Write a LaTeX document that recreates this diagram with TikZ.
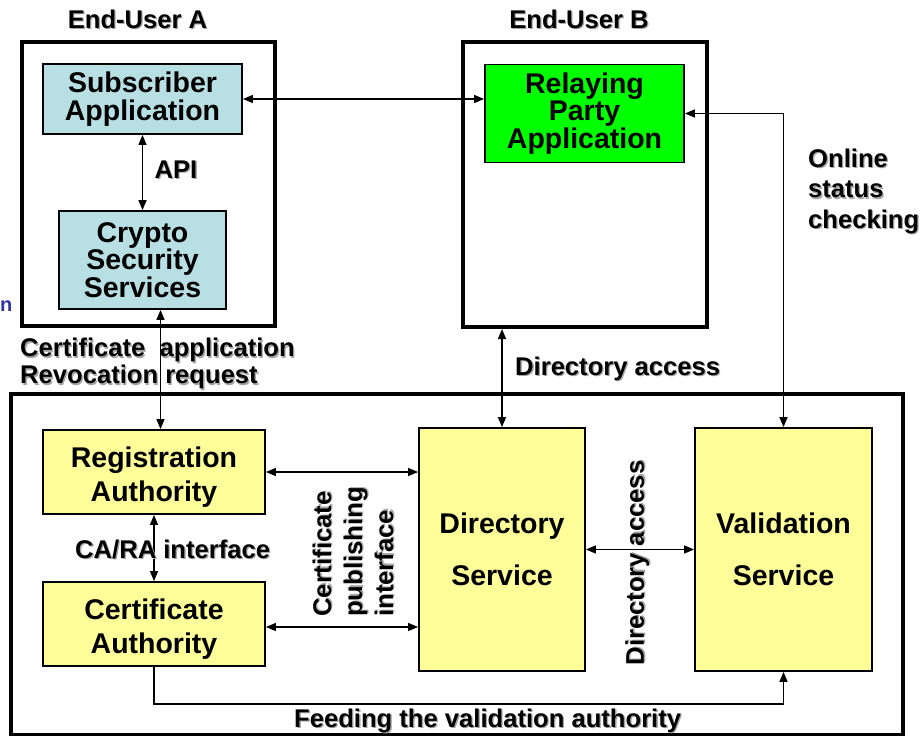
\documentclass[tikz,border=0pt]{standalone}
\usepackage{fontspec}
\setmainfont{Liberation Sans}
\usetikzlibrary{arrows.meta}

\definecolor{appblue}{RGB}{184,224,228}
\definecolor{paleyellow}{RGB}{255,255,153}
\definecolor{brightgreen}{RGB}{0,255,0}
\definecolor{titleblue}{RGB}{51,51,160}

% bold label with a soft grey drop shadow
\newcommand\shd[1]{\leavevmode\rlap{\kern1.3pt\raisebox{-1.3pt}{\color{black!35}#1}}#1}
% invisible strut that lowers a two-line block inside its box
\newcommand\lowerstrut{\rule{0pt}{30pt}}

\begin{document}
\begin{tikzpicture}[x=1pt,y=-1pt,
  frame/.style={draw,line width=4pt,inner sep=0pt},
  box/.style={draw,line width=1.8pt,inner sep=0pt,align=center,
    font=\bfseries\fontsize{28.5}{27.5}\selectfont},
  widebox/.style={box,font=\bfseries\fontsize{28.5}{34}\selectfont},
  tallbox/.style={box,font=\bfseries\fontsize{28.5}{52}\selectfont},
  lbl/.style={inner sep=0pt,font=\bfseries\fontsize{25.6}{27}\selectfont},
  link/.style={line width=1.3pt,{Triangle[length=10pt,width=8pt]}-{Triangle[length=10pt,width=8pt]}},
  feed/.style={line width=1.3pt,-{Triangle[length=10pt,width=8pt]}}
]
\useasboundingbox (0,0) rectangle (921,736);

% outer containers
\node[frame,minimum width=253,minimum height=284] (euA) at (148.5,184) {};
\node[frame,minimum width=244,minimum height=285] (euB) at (585,184.5) {};
\node[frame,minimum width=892,minimum height=341] (pki) at (457,564.5) {};

% end-user components
\node[box,fill=appblue,minimum width=199,minimum height=70] (sub) at (142.5,99)
  {Subscriber\\Application};
\node[box,fill=appblue,minimum width=167,minimum height=98] (crypto) at (142.5,260)
  {Crypto\\Security\\Services};
\node[box,fill=brightgreen,minimum width=199,minimum height=98] (rp) at (584.5,113.5)
  {Relaying\\Party\\Application};

% PKI components
\node[widebox,fill=paleyellow,minimum width=222,minimum height=84] (ra) at (154,472)
  {\lowerstrut Registration\\Authority};
\node[widebox,fill=paleyellow,minimum width=222,minimum height=84] (ca) at (154,624)
  {\lowerstrut Certificate\\Authority};
\node[tallbox,fill=paleyellow,minimum width=166,minimum height=243] (ds) at (502,549.5)
  {Directory\\Service};
\node[tallbox,fill=paleyellow,minimum width=177,minimum height=243] (vs) at (783.5,549.5)
  {Validation\\Service};

% connectors
\draw[link] (sub.east) -- (sub.east -| rp.west);
\draw[link] (sub.south) -- (crypto.north);
\draw[link] ([xshift=18pt]crypto.south) -- ([xshift=18pt]crypto.south |- ra.north);
\draw[link] (ra.south) -- (ca.north);
\draw[link] (ds.north) -- (ds.north |- euB.south);
\draw[link] (rp.east) -- (rp.east -| vs.north) -- (vs.north);
\draw[link] (ra.east) -- (ra.east -| ds.west);
\draw[link] ([yshift=-3pt]ca.east) -- ([yshift=-3pt]ca.east -| ds.west);
\draw[link] (ds.east) -- (vs.west);
\draw[feed] (ca.south) -- ++(0,37) -| (vs.south);

% labels
\node[lbl,anchor=base] (titleA) at (137.5,28) {\shd{End-User A}};
\node[lbl,anchor=base] (titleB) at (579,28) {\shd{End-User B}};
\node[lbl,anchor=base] (api) at (176,178) {\shd{API}};
\node[lbl,anchor=west,align=left,font=\bfseries\fontsize{25.6}{27}\selectfont] (certreq) at (20,364.5)
  {\shd{Certificate\ \ application}\\\shd{Revocation request}};
\node[lbl,anchor=west,align=left,font=\bfseries\fontsize{25.6}{30.5}\selectfont] (online) at (808,192)
  {\shd{Online}\\\shd{status}\\\shd{checking}};
\node[lbl,anchor=base west] (diracc) at (515,375) {\shd{Directory access}};
\node[lbl,anchor=base west] (carai) at (75,558) {\shd{CA/RA interface}};
\node[lbl,anchor=base west] (feedlbl) at (294,727) {\shd{Feeding the validation authority}};
\node[lbl,rotate=90,align=left,font=\bfseries\fontsize{25.6}{31}\selectfont] (pubif) at (353.5,552)
  {\shd{Certificate}\\\shd{publishing}\\\shd{interface}};
\node[lbl,rotate=90] (diracc2) at (638,563) {\shd{Directory access}};

% title fragment at the left edge
\node[anchor=base west,inner sep=0pt,text=titleblue,font=\bfseries\fontsize{20}{20}\selectfont]
  (frag) at (0,311) {n};
\end{tikzpicture}
\end{document}
